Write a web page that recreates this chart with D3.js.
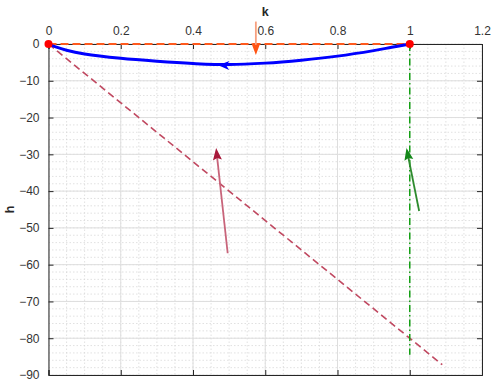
<!DOCTYPE html>
<html>
<head>
<meta charset="utf-8">
<script src="https://cdn.jsdelivr.net/npm/d3@7"></script>
<style>
  body { margin: 0; background: #fff; }
  text { font-family: "Liberation Sans", Arial, sans-serif; }
</style>
</head>
<body>
<div id="chart"></div>
<script>
var kTicks = [0, 0.2, 0.4, 0.6, 0.8, 1, 1.2];
var hTicks = [0, -10, -20, -30, -40, -50, -60, -70, -80, -90];

// blue trajectory, drawn from k=1 back to k=0
var blueK = [1, 0.95, 0.9, 0.8, 0.7, 0.6, 0.5, 0.4, 0.3, 0.2, 0.1, 0.05, 0.02, 0];
var blueH = [0, -0.9, -1.8, -3.3, -4.4, -5.2, -5.6, -5.3, -4.7, -3.9, -2.7, -1.7, -0.8, 0];

// straight reference lines
var diagK = [0, 1.09];
var diagH = [0, -87.2];
var flatK = [0, 1];
var flatH = [0, 0];
var vertK = [1, 1];
var vertH = [0, -84.5];

// fixed points
var pointK = [0, 1];
var pointH = [0, 0];

// quiver arrows: tail -> tip
var arrowTailK = [0.574, 0.496, 1.026];
var arrowTailH = [6.1, -56.9, -45.4];
var arrowTipK = [0.574, 0.464, 0.991];
var arrowTipH = [-3.0, -28.3, -28.3];
var arrowShaft = ['#f7a07f', '#c8647a', '#2e8b2e'];
var arrowHead = ['#ff5414', '#a8183a', '#14881a'];

// arrow on blue curve
var blueArrowK = 0.47, blueArrowH = -5.75;

var W = 499, H = 389;
var margin = { top: 44, right: 17, bottom: 14, left: 48.5 },
  width = W - margin.left - margin.right,
  height = H - margin.top - margin.bottom;

var x = d3.scaleLinear().domain([0, 1.2]).range([0, width]);
var y = d3.scaleLinear().domain([-90, 0]).range([height, 0]);

var svg = d3.select('#chart').append('svg')
  .attr('width', W).attr('height', H);
var g = svg.append('g')
  .attr('transform', `translate(${margin.left}, ${margin.top})`);

// minor grid
var minorK = d3.range(0, 1.2001, 0.05);
var minorH = d3.range(-90, 0.001, 2);
g.selectAll('.minorX').data(minorK).enter().append('line')
  .attr('x1', d => x(d)).attr('x2', d => x(d))
  .attr('y1', 0).attr('y2', height)
  .attr('stroke', '#d4d4d4').attr('stroke-width', 0.7)
  .attr('stroke-dasharray', '1.5,2');
g.selectAll('.minorY').data(minorH).enter().append('line')
  .attr('y1', d => y(d)).attr('y2', d => y(d))
  .attr('x1', 0).attr('x2', width)
  .attr('stroke', '#d4d4d4').attr('stroke-width', 0.7)
  .attr('stroke-dasharray', '1.5,2');

// major grid
g.selectAll('.gridX').data(kTicks).enter().append('line')
  .attr('x1', d => x(d)).attr('x2', d => x(d))
  .attr('y1', 0).attr('y2', height)
  .attr('stroke', '#dedede').attr('stroke-width', 1);
g.selectAll('.gridY').data(hTicks).enter().append('line')
  .attr('y1', d => y(d)).attr('y2', d => y(d))
  .attr('x1', 0).attr('x2', width)
  .attr('stroke', '#dedede').attr('stroke-width', 1);

// axes (MATLAB style: ticks inward, x labels on top)
var axTop = g.append('g')
  .call(d3.axisTop(x).tickValues(kTicks).tickSize(-5).tickPadding(9)
    .tickFormat(d => d3.format('~g')(d)));
var axBottom = g.append('g').attr('transform', `translate(0, ${height})`)
  .call(d3.axisBottom(x).tickValues(kTicks).tickSize(-5).tickFormat(''));
var axLeft = g.append('g')
  .call(d3.axisLeft(y).tickValues(hTicks).tickSize(-5).tickPadding(9));
var axRight = g.append('g').attr('transform', `translate(${width}, 0)`)
  .call(d3.axisRight(y).tickValues(hTicks).tickSize(-5).tickFormat(''));
[axTop, axBottom, axLeft, axRight].forEach(a => {
  a.select('.domain').attr('stroke', '#262626').attr('stroke-width', 1);
  a.selectAll('.tick line').attr('stroke', '#262626');
  a.selectAll('.tick text').attr('fill', '#333').style('font-size', '12px')
    .style('font-family', '"Liberation Sans", Arial, sans-serif');
});

svg.append('text')
  .attr('x', margin.left + width / 2).attr('y', 16)
  .attr('text-anchor', 'middle')
  .style('font-size', '12.5px').style('font-weight', 'bold')
  .attr('fill', '#262626').text('k');
svg.append('text')
  .attr('transform', `translate(14, ${margin.top + height / 2}) rotate(-90)`)
  .attr('text-anchor', 'middle')
  .style('font-size', '12.5px').style('font-weight', 'bold')
  .attr('fill', '#262626').text('h');

var line = d3.line().x(d => x(d[0])).y(d => y(d[1]));
var plot = g.append('g');

plot.append('path').datum(d3.zip(diagK, diagH))
  .attr('d', line).attr('fill', 'none')
  .attr('stroke', '#c04860').attr('stroke-width', 1.6)
  .attr('stroke-dasharray', '7,4');

plot.append('path').datum(d3.zip(vertK, vertH))
  .attr('d', line).attr('fill', 'none')
  .attr('stroke', '#14a014').attr('stroke-width', 1.5)
  .attr('stroke-dasharray', '7,3,1.5,3');

plot.append('path').datum(d3.zip(flatK, flatH))
  .attr('d', line).attr('fill', 'none')
  .attr('stroke', '#ff5a1e').attr('stroke-width', 2)
  .attr('stroke-dasharray', '8,4');

plot.append('path').datum(d3.zip(blueK, blueH))
  .attr('d', line.curve(d3.curveCatmullRom)).attr('fill', 'none')
  .attr('stroke', '#0000ff').attr('stroke-width', 3);

// arrowhead helper: tip at (tx,ty), direction angle ang (radians)
function headPath(tx, ty, ang, len, half, notch) {
  var c = Math.cos(ang), s = Math.sin(ang);
  var bx = tx - c * len, by = ty - s * len;
  var nx = tx - c * (len - notch), ny = ty - s * (len - notch);
  return `M${tx},${ty}L${bx - s * half},${by + c * half}L${nx},${ny}L${bx + s * half},${by - c * half}Z`;
}

// blue arrowhead pointing left
var bx = x(blueArrowK), by = y(blueArrowH);
plot.append('path')
  .attr('d', headPath(bx, by, Math.PI + 0.03, 11, 4.5, 3))
  .attr('fill', '#0000ff');

// quiver arrows
arrowTailK.forEach((k, i) => {
  var x0 = x(k), y0 = y(arrowTailH[i]);
  var x1 = x(arrowTipK[i]), y1 = y(arrowTipH[i]);
  var ang = Math.atan2(y1 - y0, x1 - x0);
  plot.append('line')
    .attr('x1', x0).attr('y1', y0)
    .attr('x2', x1 - Math.cos(ang) * 6).attr('y2', y1 - Math.sin(ang) * 6)
    .attr('stroke', arrowShaft[i]).attr('stroke-width', 1.8);
  plot.append('path')
    .attr('d', headPath(x1, y1, ang, 12, 4.5, 2))
    .attr('fill', arrowHead[i]);
});

plot.selectAll('.pt').data(d3.zip(pointK, pointH)).enter().append('circle')
  .attr('cx', d => x(d[0])).attr('cy', d => y(d[1]))
  .attr('r', 4).attr('fill', '#ff0000');
</script>
</body>
</html>
